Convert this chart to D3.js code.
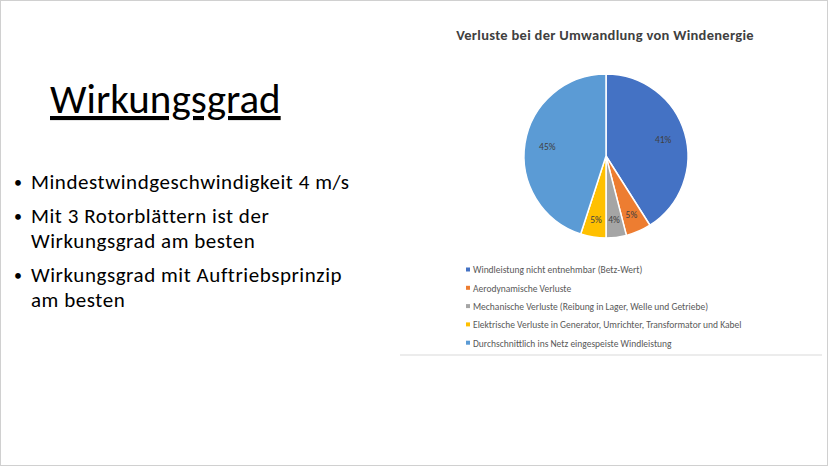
<!DOCTYPE html>
<html><head><meta charset="utf-8">
<script src="https://cdn.jsdelivr.net/npm/d3@7"></script>
<style>body{margin:0;background:#fff}svg{display:block}</style>
</head><body>
<svg id="chart" width="828" height="466"></svg>
<script>
// chart data
var categories = [
  "Windleistung nicht entnehmbar (Betz-Wert)",
  "Aerodynamische Verluste",
  "Mechanische Verluste (Reibung in Lager, Welle und Getriebe)",
  "Elektrische Verluste in Generator, Umrichter, Transformator und Kabel",
  "Durchschnittlich ins Netz eingespeiste Windleistung"
];
var values = [41, 5, 4, 5, 45];
var colors = ["#4472c4", "#ed7d31", "#a5a5a5", "#ffc000", "#5b9bd5"];
var bullets = [
  ["Mindestwindgeschwindigkeit 4 m/s"],
  ["Mit 3 Rotorblättern ist der", "Wirkungsgrad am besten"],
  ["Wirkungsgrad mit Auftriebsprinzip", "am besten"]
];

var svg = d3.select("#chart");
var font = "Calibri, Carlito, 'Liberation Sans', sans-serif";

// slide frame
svg.append("rect").attr("x", 0.5).attr("y", 0.5).attr("width", 827).attr("height", 465)
  .attr("fill", "none").attr("stroke", "#d0d0d0");

// slide title
svg.append("text").attr("x", 50).attr("y", 113).attr("font-family", font)
  .attr("font-size", 41).attr("fill", "#000").attr("text-decoration", "underline")
  .text("Wirkungsgrad");

// bullet list
var y = 189;
bullets.forEach(function(lines) {
  svg.append("text").attr("x", 14).attr("y", y - 1).attr("font-family", font)
    .attr("font-size", 16).text("•");
  lines.forEach(function(line, i) {
    svg.append("text").attr("x", 31).attr("y", y + i * 25).attr("font-family", font)
      .attr("font-size", 21).attr("letter-spacing", 0.55).attr("fill", "#000").text(line);
  });
  y += lines.length * 25 + 9;
});

// chart title
svg.append("text").attr("x", 605).attr("y", 40).attr("text-anchor", "middle")
  .attr("font-family", font).attr("font-size", 14.5).attr("font-weight", "bold")
  .attr("letter-spacing", 0.3).attr("fill", "#404040").text("Verluste bei der Umwandlung von Windenergie");

// pie
var pie = d3.pie().sort(null)(values);
var radius = 82;
var arc = d3.arc().innerRadius(0).outerRadius(radius);
var labelArc = d3.arc().innerRadius(radius * 0.78).outerRadius(radius * 0.78);
var g = svg.append("g").attr("transform", "translate(606,156)");

g.selectAll("path").data(pie).join("path")
  .attr("d", arc).attr("fill", (d, i) => colors[i])
  .attr("stroke", "#fff").attr("stroke-width", 1.5);

var total = d3.sum(values);
g.selectAll("text").data(pie).join("text")
  .attr("transform", function(d) {
    var c = d.data > 10 ? d3.arc().innerRadius(radius * 0.6).outerRadius(radius * 0.85).centroid(d) : labelArc.centroid(d);
    return "translate(" + c + ")";
  })
  .attr("text-anchor", "middle").attr("dy", "0.35em")
  .attr("font-family", font).attr("font-size", 9.5).attr("fill", "#404040")
  .text(d => Math.round(d.data / total * 100) + "%");

// legend
var legend = svg.append("g").attr("transform", "translate(466,270)");
categories.forEach(function(name, i) {
  var row = legend.append("g").attr("transform", "translate(0," + (i * 18.3) + ")");
  row.append("rect").attr("x", 0).attr("y", -2.5).attr("width", 4).attr("height", 4).attr("fill", colors[i]);
  row.append("text").attr("x", 7).attr("y", 0).attr("dy", "0.35em")
    .attr("font-family", font).attr("font-size", 9.5).attr("fill", "#595959").text(name);
});

// chart bottom border
svg.append("line").attr("x1", 400).attr("x2", 822).attr("y1", 355).attr("y2", 355)
  .attr("stroke", "#d9d9d9");
</script>
</body></html>
